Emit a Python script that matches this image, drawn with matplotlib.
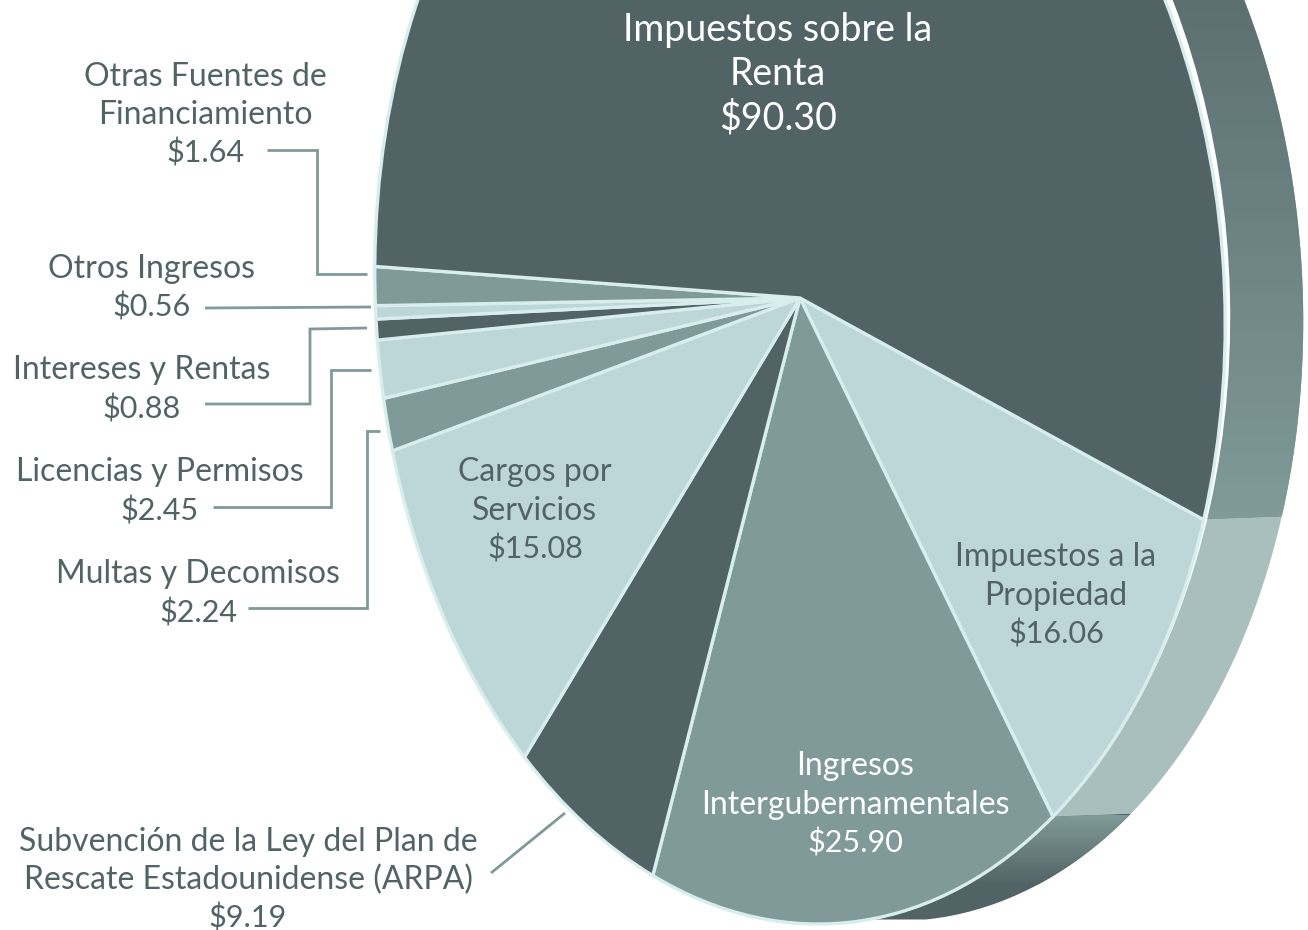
import matplotlib
matplotlib.use("Agg")
import matplotlib.pyplot as plt
import numpy as np
from matplotlib.colors import LinearSegmentedColormap
from matplotlib.patches import Ellipse, Polygon
from matplotlib.transforms import Affine2D

plt.rcParams['font.family'] = ['Lato', 'DejaVu Sans']

# Slices clockwise from the lower right
names = ['Impuestos a la Propiedad', 'Ingresos Intergubernamentales', 'Subvención ARPA',
         'Cargos por Servicios', 'Multas y Decomisos', 'Licencias y Permisos',
         'Intereses y Rentas', 'Otros Ingresos', 'Otras Fuentes de Financiamiento',
         'Impuestos sobre la Renta']
values = [16.06, 25.90, 9.19, 15.08, 2.24, 2.45, 0.88, 0.56, 1.64, 90.30]

DARK = '#526365'
MID = '#7f9a98'
LIGHT = '#bdd6d7'
EDGE = '#d8eeee'
colors = [LIGHT, MID, DARK, LIGHT, MID, LIGHT, DARK, LIGHT, MID, DARK]

W, H = 1308, 930
START = -20.2
SHIFT_X, SHIFT_Y = 78, -3   # depth of the disc, pixels
FLOOR = 919.5

fig = plt.figure(figsize=(W / 100, H / 100), dpi=100)
ax = fig.add_axes([0, 0, 1, 1])

# unit pie -> tilted ellipse in pixels
disc = Affine2D.from_values(425, 6, -14, -626, 800, 298)
tilt = disc + ax.transData


def side_poly(theta1, theta2):
    t = np.radians(np.linspace(theta1, theta2, 200))
    pts = disc.transform(np.column_stack([np.cos(t), np.sin(t)]))
    x, y = pts[:, 0], pts[:, 1]
    px = np.concatenate([x, x[::-1] + SHIFT_X])
    py = np.concatenate([y, y[::-1] + SHIFT_Y])
    return np.column_stack([px, np.minimum(py, FLOOR)])


# Extruded side of the disc, drawn under the pie
ends = START - np.cumsum(values) / np.sum(values) * 360
starts = np.concatenate([[START], ends[:-1]])

side_prop = Polygon(side_poly(starts[0], ends[0]), closed=True, fc='#a9bfbe', ec='none', zorder=1)
ax.add_patch(side_prop)

side_inter = Polygon(side_poly(starts[1], ends[1]), closed=True, fc=DARK, ec='none', zorder=1)
ax.add_patch(side_inter)
im = ax.imshow(np.linspace(0, 1, 100)[:, None], aspect='auto', zorder=1.1,
               cmap=LinearSegmentedColormap.from_list('g1', [MID, DARK]),
               extent=(0, W, 885, 815), origin='upper')
im.set_clip_path(side_inter)

side_isr = Polygon(side_poly(starts[9], ends[9]), closed=True, fc=MID, ec='none', zorder=1)
ax.add_patch(side_isr)
im2 = ax.imshow(np.linspace(0, 1, 100)[:, None], aspect='auto', zorder=1.1,
                cmap=LinearSegmentedColormap.from_list('g2', ['#5d7071', MID]),
                extent=(0, W, 516, 0), origin='upper')
im2.set_clip_path(side_isr)

# White gap between the disc and its side
ax.add_patch(Ellipse((0, 0), 2, 2, fc='white', ec='none', zorder=1.5,
                     transform=disc + Affine2D().translate(5, -7) + ax.transData))

wedges, _ = ax.pie(values, colors=colors, startangle=START, counterclock=False,
                   wedgeprops=dict(edgecolor=EDGE, linewidth=2.4))
for w in wedges:
    w.set_transform(tilt)
    w.set_zorder(2)
ax.set_aspect('auto')
ax.set_xlim(0, W)
ax.set_ylim(H, 0)
ax.axis('off')

leaders = [
    ([267, 317, 317, 367], [150, 150, 274, 274]),
    ([205, 371], [308, 307]),
    ([205, 310, 310, 367], [404, 404, 329, 328]),
    ([213, 331, 331, 371], [507, 507, 370, 370]),
    ([248, 367, 367, 380], [608, 608, 431, 431]),
    ([491, 565], [873, 813]),
]
for lx, ly in leaders:
    ax.plot(lx, ly, color=MID, lw=2.0, solid_joinstyle='miter', solid_capstyle='butt', zorder=3)

labels = [
    (['Impuestos sobre la', 'Renta', '$90.30'], 778, 40.5, 44.5, 27, 'white'),
    (['Otras Fuentes de', 'Financiamiento', '$1.64'], 205, 86, 38.5, 23, DARK),
    (['Otros Ingresos', '$0.56'], 152, 278, 38.5, 23, DARK),
    (['Intereses y Rentas', '$0.88'], 142, 379, 39, 23, DARK),
    (['Licencias y Permisos', '$2.45'], 160, 481, 39, 23, DARK),
    (['Multas y Decomisos', '$2.24'], 198, 583, 39, 23, DARK),
    (['Subvención de la Ley del Plan de', 'Rescate Estadounidense (ARPA)', '$9.19'], 248, 851, 38, 23, DARK),
    (['Impuestos a la', 'Propiedad', '$16.06'], 1056, 566, 38.5, 23, DARK),
    (['Cargos por', 'Servicios', '$15.08'], 535, 481, 38.5, 23, DARK),
    (['Ingresos', 'Intergubernamentales', '$25.90'], 855, 775, 38.5, 23, 'white'),
]
for lines, cx, y0, step, size, col in labels:
    for i, line in enumerate(lines):
        # dollar amounts run a little narrower than the words
        fs = size - 1 if line.startswith('$') and size < 27 else size
        ax.text(cx, y0 + i * step, line.replace('$', r'\$'), ha='center', va='baseline',
                fontsize=fs, color=col, zorder=4)

fig.savefig('out.png', dpi=100, facecolor='white')
